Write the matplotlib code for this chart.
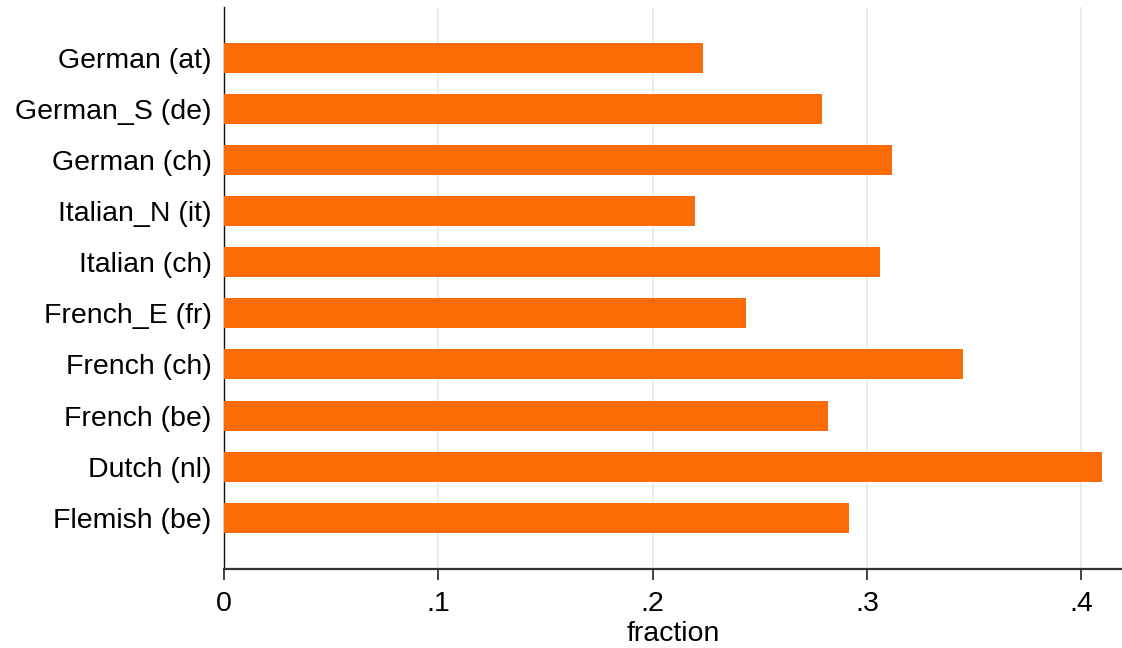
import matplotlib.pyplot as plt

# category labels, top to bottom
languages = [
    "German (at)",
    "German_S (de)",
    "German (ch)",
    "Italian_N (it)",
    "Italian (ch)",
    "French_E (fr)",
    "French (ch)",
    "French (be)",
    "Dutch (nl)",
    "Flemish (be)",
]
fractions = [0.2236, 0.2791, 0.3118, 0.2198, 0.3062,
             0.2436, 0.3450, 0.2819, 0.4098, 0.2917]
xticks = [0, 0.1, 0.2, 0.3, 0.4]
xtick_labels = ["0", ".1", ".2", ".3", ".4"]

plt.rcParams["font.family"] = ["Liberation Sans", "DejaVu Sans"]

fig = plt.figure(figsize=(11.22, 6.48), dpi=100)
ax = fig.add_axes([224 / 1122, 1 - 569 / 648, 1 - 224 / 1122, (569 - 7) / 648])

positions = list(range(len(languages)))
ax.barh(positions, fractions, height=0.587, color="#fa6c08", zorder=3)

ax.set_ylim(10.0, -0.99)
ax.set_xlim(0, 0.419)

ax.set_yticks(positions)
ax.set_yticklabels(languages, fontsize=20.5)
ax.tick_params(axis="y", length=0, pad=9)

ax.set_xticks(xticks)
ax.set_xticklabels(xtick_labels, fontsize=20.5)
ax.tick_params(axis="x", length=8, width=1.2, pad=8, color="#222222")
ax.set_xlabel("fraction", fontsize=20.5, labelpad=3)

ax.grid(axis="x", color="#e6eef0", linewidth=1.5, zorder=0)

for side in ["top", "right"]:
    ax.spines[side].set_visible(False)
ax.spines["left"].set_linewidth(1.0)
ax.spines["left"].set_color("#111111")
ax.spines["bottom"].set_linewidth(1.6)
ax.spines["bottom"].set_color("#333333")

plt.savefig("out.png", dpi=100)
